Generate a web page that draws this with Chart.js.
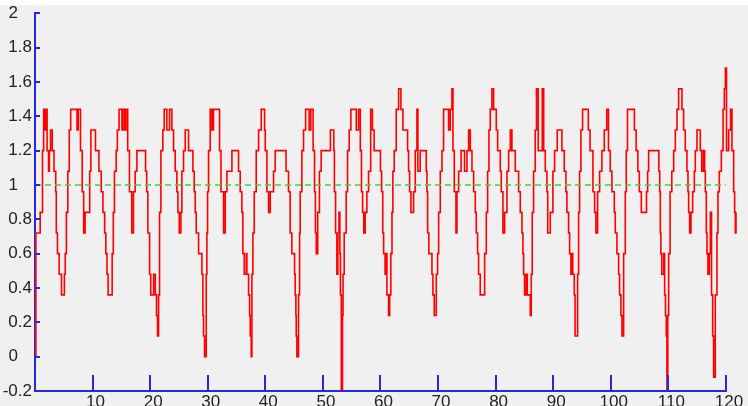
<!DOCTYPE html>
<html>
<head>
<meta charset="utf-8">
<script src="https://cdn.jsdelivr.net/npm/chart.js@4/dist/chart.umd.min.js"></script>
<style>
    html, body { margin: 0; padding: 0; background: #ffffff; }
    #wrap { width: 748px; height: 406px; }
</style>
</head>
<body>
<div id="wrap"><canvas id="chart" width="748" height="406"></canvas></div>
<script>
// Sinyal (nilai terkuantisasi 0.12): x = waktu, y = amplitudo
const signalX = [
    0, 0.15, 0.9, 1.3, 1.5, 1.7, 1.9, 2.1, 2.35, 2.5, 2.7, 3.0, 3.3, 3.6, 3.7, 3.9, 4.2, 4.6, 5.1, 5.25,
    5.45, 5.7, 5.95, 6.2, 7.3, 7.5, 7.9, 8.2, 8.45, 8.7, 9.5, 9.7, 10.5, 11.1, 11.5, 11.8, 12.1, 12.3, 12.5, 12.7,
    13.4, 13.6, 13.8, 14.1, 14.3, 14.6, 15.1, 15.3, 15.6, 15.8, 16.1, 16.4, 16.8, 17.1, 17.4, 17.7, 19.2, 19.4, 19.6, 19.9,
    20.1, 20.6, 20.9, 21.1, 21.28, 21.46, 21.63, 21.86, 22.2, 22.44, 22.9, 23.37, 23.77, 24.06, 24.35, 24.64, 24.82, 25.05, 25.34, 25.51,
    25.8, 26.09, 26.67, 27.42, 27.65, 27.83, 28.0, 28.41, 28.99, 29.16, 29.27, 29.45, 29.74, 29.85, 29.97, 30.14, 30.43, 30.72, 31.0, 32.05,
    32.3, 32.75, 33.04, 33.33, 34.2, 35.35, 35.64, 35.93, 36.1, 36.34, 36.69, 36.8, 37.09, 37.27, 37.38, 37.55, 37.67, 37.84, 38.08, 38.42,
    38.83, 39.29, 39.87, 39.99, 40.28, 40.57, 40.86, 41.43, 41.72, 43.6, 44.03, 44.32, 44.61, 45.08, 45.19, 45.31, 45.37, 45.48, 45.77, 45.95,
    46.06, 46.35, 46.64, 47.0, 47.6, 47.9, 48.3, 48.55, 48.7, 48.85, 49.1, 49.4, 49.7, 51.3, 51.9, 52.0, 52.2, 52.43, 52.6, 52.8,
    52.95, 53.05, 53.2, 53.4, 53.5, 53.7, 54.05, 54.28, 54.57, 54.86, 55.8, 56.2, 56.5, 56.7, 56.9, 57.1, 57.35, 57.64, 57.93, 58.3,
    58.6, 58.9, 60.0, 60.2, 60.4, 60.55, 60.8, 61.0, 61.12, 61.41, 61.6, 61.8, 62.0, 62.15, 62.39, 62.74, 63.15, 63.55, 63.9, 64.71,
    64.88, 65.06, 65.29, 65.75, 66.04, 66.33, 66.5, 66.9, 67.95, 68.07, 68.19, 68.4, 68.94, 69.11, 69.34, 69.69, 69.92, 70.1, 70.39, 70.68,
    70.96, 71.83, 72.12, 72.41, 72.59, 72.82, 73.11, 73.28, 73.57, 74.0, 74.6, 75.02, 75.31, 75.6, 75.89, 76.18, 76.47, 76.64, 76.87, 77.04,
    77.33, 78.09, 78.38, 78.61, 78.84, 79.07, 79.36, 79.65, 80.11, 80.35, 80.81, 80.98, 81.27, 81.56, 81.97, 82.26, 82.55, 82.83, 83.41, 83.99,
    84.28, 84.57, 84.74, 84.86, 85.03, 85.32, 85.5, 86.01, 86.19, 86.36, 86.59, 86.88, 87.1, 87.4, 88.1, 88.35, 88.62, 88.91, 89.05, 89.49,
    89.95, 90.24, 90.7, 91.51, 91.92, 92.21, 92.38, 92.67, 92.85, 93.08, 93.25, 93.4, 93.66, 93.8, 94.24, 94.41, 94.58, 94.82, 95.1, 96.1,
    96.4, 96.9, 97.19, 97.42, 97.71, 98.06, 98.46, 98.87, 99.3, 99.6, 99.91, 100.2, 100.61, 100.78, 101.07, 101.36, 101.53, 101.76, 101.94, 102.23,
    102.52, 102.69, 102.9, 104.1, 104.4, 104.7, 104.95, 105.3, 106.2, 106.4, 106.57, 108.35, 108.5, 108.6, 108.7, 108.85, 109.2, 109.35, 109.5, 109.64,
    109.75, 109.9, 110.05, 110.3, 110.6, 110.92, 111.21, 111.5, 111.78, 112.36, 112.65, 112.94, 113.23, 113.41, 113.52, 113.7, 113.93, 114.22, 114.51, 114.68,
    114.97, 115.55, 115.8, 116.1, 116.3, 116.42, 116.59, 116.71, 116.88, 117.11, 117.29, 117.5, 117.69, 117.86, 118.15, 118.44, 118.62, 118.85, 119.2, 119.5,
    119.72, 119.9, 120.1, 120.47, 120.8, 121.05, 121.34, 121.51, 121.63, 121.75
];
const signalY = [
    0.0, 0.72, 0.84, 1.2, 1.44, 1.32, 1.44, 1.2, 1.08, 1.2, 1.32, 1.2, 1.08, 0.96, 0.72, 0.6, 0.48, 0.36, 0.48, 0.6,
    0.84, 1.08, 1.32, 1.44, 1.32, 1.44, 1.2, 0.96, 0.72, 0.84, 1.08, 1.32, 1.2, 1.08, 0.96, 0.84, 0.72, 0.6, 0.48, 0.36,
    0.6, 0.84, 1.08, 1.2, 1.32, 1.44, 1.32, 1.44, 1.32, 1.44, 1.2, 0.96, 0.72, 0.96, 1.08, 1.2, 1.08, 0.96, 0.72, 0.48,
    0.36, 0.48, 0.36, 0.24, 0.12, 0.36, 0.84, 1.2, 1.32, 1.44, 1.32, 1.44, 1.32, 1.2, 1.08, 0.96, 0.84, 0.72, 0.84, 1.08,
    1.2, 1.32, 1.2, 1.08, 0.96, 0.84, 0.72, 0.6, 0.48, 0.24, 0.12, 0.0, 0.48, 0.72, 0.96, 1.2, 1.44, 1.32, 1.44, 1.2,
    0.96, 0.72, 0.96, 1.08, 1.2, 1.08, 0.96, 0.84, 0.6, 0.48, 0.6, 0.48, 0.36, 0.24, 0.12, 0.0, 0.48, 0.72, 0.96, 1.2,
    1.32, 1.44, 1.32, 1.2, 0.96, 0.84, 0.96, 1.08, 1.2, 1.08, 0.96, 0.72, 0.6, 0.48, 0.36, 0.24, 0.12, 0.0, 0.36, 0.72,
    0.96, 1.2, 1.32, 1.44, 1.32, 1.44, 1.2, 0.96, 0.72, 0.6, 0.84, 1.08, 1.2, 1.32, 1.2, 0.96, 0.72, 0.48, 0.72, 0.84,
    0.6, 0.36, -0.2, 0.24, 0.48, 0.72, 0.96, 1.2, 1.32, 1.44, 1.32, 1.44, 1.2, 0.96, 0.84, 0.72, 0.84, 0.96, 1.08, 1.44,
    1.32, 1.2, 1.08, 0.96, 0.72, 0.6, 0.48, 0.6, 0.36, 0.24, 0.36, 0.6, 0.84, 1.08, 1.2, 1.44, 1.56, 1.44, 1.32, 1.2,
    1.08, 0.96, 0.84, 0.96, 1.2, 1.44, 1.08, 1.2, 1.08, 0.96, 0.72, 0.6, 0.48, 0.36, 0.24, 0.48, 0.6, 0.84, 1.08, 1.2,
    1.44, 1.32, 1.44, 1.56, 1.2, 0.96, 0.72, 0.96, 1.08, 1.2, 1.08, 1.2, 1.32, 1.2, 1.08, 0.96, 0.84, 0.72, 0.6, 0.48,
    0.36, 0.6, 0.84, 1.08, 1.32, 1.44, 1.56, 1.44, 1.32, 1.2, 1.08, 0.96, 0.72, 0.84, 1.08, 1.2, 1.32, 1.2, 1.08, 0.96,
    0.84, 0.72, 0.6, 0.48, 0.36, 0.48, 0.36, 0.24, 0.48, 0.84, 1.08, 1.32, 1.56, 1.2, 1.56, 1.2, 1.08, 0.96, 0.72, 0.84,
    1.08, 1.2, 1.32, 1.2, 1.08, 0.96, 0.84, 0.72, 0.6, 0.48, 0.6, 0.48, 0.36, 0.12, 0.48, 0.84, 1.08, 1.32, 1.44, 1.32,
    1.2, 0.96, 0.84, 0.72, 0.96, 1.08, 1.2, 1.32, 1.44, 1.2, 1.08, 0.96, 0.84, 0.72, 0.6, 0.48, 0.36, 0.24, 0.12, 0.6,
    0.96, 1.2, 1.44, 1.32, 1.2, 1.08, 0.96, 0.84, 0.96, 1.08, 1.2, 1.08, 0.96, 0.72, 0.6, 0.48, 0.6, 0.36, 0.24, 0.12,
    -0.2, 0.24, 0.6, 0.96, 1.08, 1.2, 1.32, 1.44, 1.56, 1.44, 1.32, 1.2, 1.08, 0.96, 0.84, 0.72, 0.84, 0.96, 1.08, 1.2,
    1.32, 1.2, 1.08, 1.2, 1.08, 0.96, 0.72, 0.6, 0.48, 0.6, 0.84, 0.36, 0.12, -0.12, 0.36, 0.72, 0.96, 1.08, 1.2, 1.44,
    1.56, 1.68, 1.2, 1.32, 1.44, 1.2, 0.96, 0.84, 0.72, 0.84
];

// Garis acuan (putus-putus hijau)
const refX = [0, 120];
const refY = [1, 1];

// Label sumbu
const xTickValues = [10, 20, 30, 40, 50, 60, 70, 80, 90, 100, 110, 120];
const xTickLabels = ['10', '20', '30', '40', '50', '60', '70', '80', '90', '100', '110', '120'];
const yTickValues = [-0.2, 0, 0.2, 0.4, 0.6, 0.8, 1, 1.2, 1.4, 1.6, 1.8, 2];
const yTickLabels = ['-0.2', '0', '0.2', '0.4', '0.6', '0.8', '1', '1.2', '1.4', '1.6', '1.8', '2'];
const xAxisEnd = 120;

const axisBlue = 'rgb(40, 40, 225)';
const textColor = '#222222';
const labelFont = { family: "'Liberation Sans', Arial, sans-serif", size: 17 };

// Latar abu-abu dengan strip putih tipis di atas
const bgPlugin = {
    id: 'bgPlugin',
    beforeDraw(chart) {
        const { ctx, width, height } = chart;
        ctx.save();
        ctx.fillStyle = '#f0f0f0';
        ctx.fillRect(0, 5, width, height - 5);
        ctx.fillStyle = '#ffffff';
        ctx.fillRect(0, 0, width, 5);
        ctx.restore();
    }
};

// Garis sumbu-x (berhenti di 120) dan tanda tick ke arah dalam (gaya MATLAB)
const tickMarks = {
    id: 'tickMarks',
    afterDraw(chart) {
        const { ctx, chartArea: area, scales: { x, y } } = chart;
        ctx.save();
        ctx.strokeStyle = axisBlue;
        ctx.lineWidth = 2;
        ctx.beginPath();
        ctx.moveTo(area.left - 1, Math.round(area.bottom));
        ctx.lineTo(x.getPixelForValue(xAxisEnd) + 1, Math.round(area.bottom));
        xTickValues.forEach(v => {
            const px = Math.round(x.getPixelForValue(v));
            ctx.moveTo(px, area.bottom);
            ctx.lineTo(px, area.bottom - 16);
        });
        yTickValues.forEach(v => {
            const py = Math.round(y.getPixelForValue(v));
            ctx.moveTo(area.left, py);
            ctx.lineTo(area.left + 5, py);
        });
        ctx.stroke();
        ctx.restore();
    }
};

const ctx = document.getElementById('chart');

new Chart(ctx, {
    type: 'line',
    data: {
        datasets: [
            {
                label: 'Batas',
                data: refX.map((v, i) => ({ x: v, y: refY[i] })),
                borderColor: 'rgb(70, 205, 70)',
                borderWidth: 1.6,
                borderDash: [6, 4],
                pointRadius: 0,
                fill: false
            },
            {
                label: 'Sinyal',
                data: signalX.map((v, i) => ({ x: v, y: signalY[i] })),
                borderColor: 'rgb(255, 0, 0)',
                borderWidth: 1.6,
                stepped: true,
                pointRadius: 0,
                fill: false,
                clip: false
            }
        ]
    },
    options: {
        responsive: false,
        animation: false,
        devicePixelRatio: 1,
        layout: {
            padding: { left: 0, top: 13, right: 11.7, bottom: 0 }
        },
        plugins: {
            legend: { display: false },
            tooltip: { enabled: false }
        },
        scales: {
            x: {
                type: 'linear',
                min: 0,
                max: 121.8,
                afterBuildTicks: s => { s.ticks = xTickValues.map(v => ({ value: v })); },
                afterFit: s => { s.height = 15; },
                grid: { display: true, drawOnChartArea: false, drawTicks: false },
                border: { display: false },
                ticks: {
                    autoSkip: false,
                    maxRotation: 0,
                    padding: 1,
                    labelOffset: 3,
                    color: textColor,
                    font: labelFont,
                    callback: v => xTickLabels[xTickValues.indexOf(v)]
                }
            },
            y: {
                type: 'linear',
                min: -0.2,
                max: 2,
                afterBuildTicks: s => { s.ticks = yTickValues.map(v => ({ value: v })); },
                afterFit: s => { s.width = 35; },
                grid: { display: true, drawOnChartArea: false, drawTicks: false },
                border: { color: axisBlue, width: 2 },
                ticks: {
                    autoSkip: false,
                    padding: 3,
                    color: textColor,
                    font: labelFont,
                    callback: (v, i) => {
                        const lbl = yTickLabels[i];
                        // label bulat diberi ruang seperti "2.0"
                        return lbl.includes('.') ? lbl : lbl + '   ';
                    }
                }
            }
        }
    },
    plugins: [bgPlugin, tickMarks]
});
</script>
</body>
</html>
